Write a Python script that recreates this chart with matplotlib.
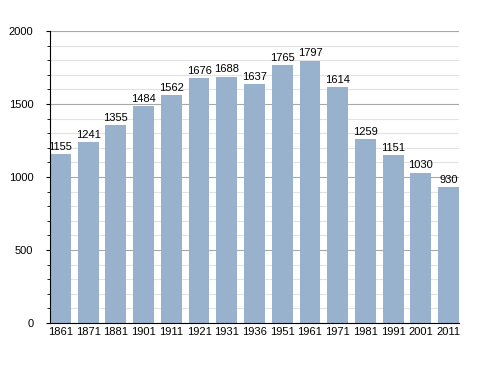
import matplotlib
matplotlib.use("Agg")
import matplotlib.pyplot as plt
from matplotlib.ticker import MultipleLocator

years = ["1861", "1871", "1881", "1901", "1911", "1921", "1931", "1936",
         "1951", "1961", "1971", "1981", "1991", "2001", "2011"]
population = [1155, 1241, 1355, 1484, 1562, 1676, 1688, 1637,
              1765, 1797, 1614, 1259, 1151, 1030, 930]

plt.rcParams["font.family"] = ["Liberation Sans", "DejaVu Sans"]

fig = plt.figure(figsize=(4.88, 3.73), dpi=100)
ax = fig.add_axes([50 / 488, 50 / 373, 409 / 488, 292 / 373])

w = 0.75
x = range(len(years))
ax.bar(x, population, width=w, color="#98b1cc", zorder=2)
for xi, v in zip(x, population):
    ax.text(xi, v + 15, str(v), ha="center", va="bottom", fontsize=8, zorder=3)

ax.set_xlim(-w / 2, len(years) - 1 + w / 2)
ax.set_ylim(0, 2000)
ax.yaxis.set_major_locator(MultipleLocator(500))
ax.yaxis.set_minor_locator(MultipleLocator(100))
ax.grid(axis="y", which="major", color="#a8a8a8", lw=0.8, zorder=0)
ax.grid(axis="y", which="minor", color="#e2e2e2", lw=0.8, zorder=0)
ax.set_xticks(list(x))
ax.set_xticklabels(years, fontsize=8)
ax.tick_params(axis="x", length=0, pad=3)
ax.tick_params(axis="y", which="major", length=3, labelsize=8, pad=9)
ax.tick_params(axis="y", which="minor", length=2)
for s in ("top", "right"):
    ax.spines[s].set_visible(False)
ax.spines["left"].set_linewidth(0.8)
ax.spines["bottom"].set_linewidth(0.8)

fig.savefig("out.png", dpi=100)
